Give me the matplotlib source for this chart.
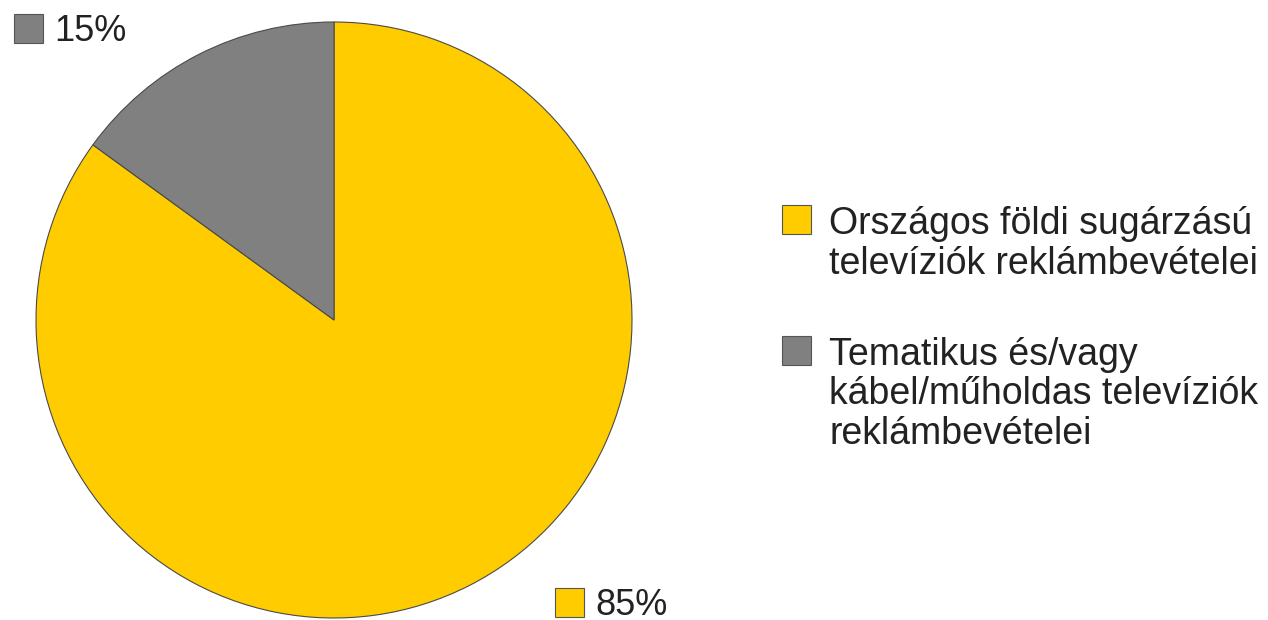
import matplotlib
matplotlib.use("Agg")
import matplotlib.pyplot as plt
from matplotlib.patches import Rectangle

plt.rcParams['font.family'] = ['Liberation Sans', 'DejaVu Sans']

labels = [['Országos földi sugárzású', 'televíziók reklámbevételei'],
          ['Tematikus és/vagy', 'kábel/műholdas televíziók', 'reklámbevételei']]
values = [85, 15]
pct_labels = ['85%', '15%']
colors = ['#FFCC00', '#808080']

W, H = 1268, 620
fig = plt.figure(figsize=(W / 100, H / 100), dpi=100)

# pie axes, placed in pixels
cx, cy, r = 334, 320, 298
ax = fig.add_axes([(cx - r) / W, (H - cy - r) / H, 2 * r / W, 2 * r / H])
ax.pie(values, colors=colors, startangle=90, counterclock=False, radius=1,
       wedgeprops=dict(edgecolor='#4a4a4a', linewidth=0.8))
ax.set_xlim(-1, 1)
ax.set_ylim(-1, 1)
ax.set_aspect('auto')
ax.axis('off')

# overlay for labels and legend in pixel coords
ov = fig.add_axes([0, 0, 1, 1])
ov.set_xlim(0, W)
ov.set_ylim(H, 0)
ov.axis('off')

def square(x, y, c):
    ov.add_patch(Rectangle((x, y), 29, 29, facecolor=c, edgecolor='#555555', linewidth=0.8))

fs = 27
tc = '#222222'
# percent labels
square(555, 588, colors[0])
ov.text(595, 615, pct_labels[0], fontsize=26, color=tc, va='baseline')
square(14, 14, colors[1])
ov.text(54, 41, pct_labels[1], fontsize=26, color=tc, va='baseline')

# legend
leg_y = [205, 336]
step = 39.5
for lines, c, y in zip(labels, colors, leg_y):
    square(782, y, c)
    for i, line in enumerate(lines):
        ov.text(829, y + 29 + i * step, line, fontsize=fs, color=tc, va='baseline')

fig.savefig('out.png', dpi=100, facecolor='white')
